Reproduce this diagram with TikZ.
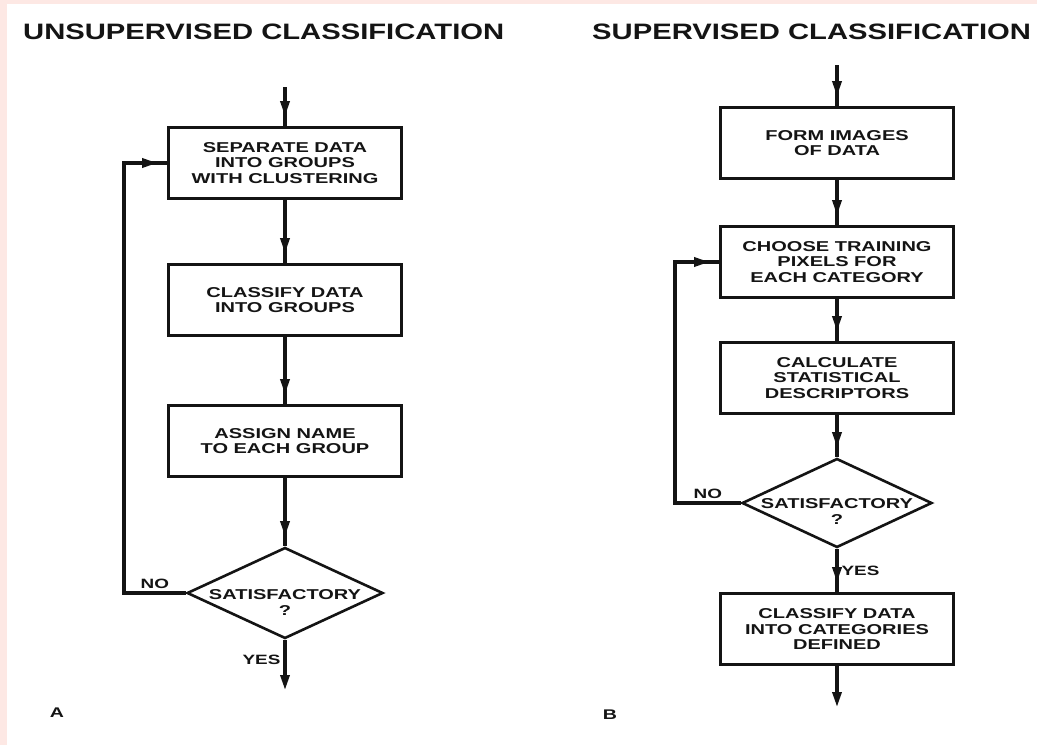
\documentclass[tikz,border=0pt]{standalone}
\usepackage{fontspec}
\newfontfamily\headfont{Liberation Sans}[FakeStretch=1.31]
\newfontfamily\boxfont{Liberation Sans}[FakeStretch=1.4]
\usetikzlibrary{arrows.meta,shapes.geometric,decorations.markings}
\definecolor{edgepink}{RGB}{253,232,228}
\definecolor{ink}{RGB}{20,20,20}
\tikzset{
  procbox/.style={draw=ink, line width=2.6pt, minimum width=233pt, minimum height=71pt,
    align=center, text=ink, font=\boxfont\bfseries\fontsize{14.3}{15.7}\selectfont},
  decision/.style={draw=ink, line width=2.6pt, diamond, inner sep=0pt,
    minimum width=196pt, minimum height=91pt},
  dtext/.style={align=center, inner sep=0pt, text=ink,
    font=\boxfont\bfseries\fontsize{14.3}{16}\selectfont},
  flow/.style={draw=ink, line width=3.2pt,
    decoration={markings, mark=at position -10pt with {\arrow{Triangle[length=15pt,width=9pt]}}},
    postaction={decorate}},
  outflow/.style={draw=ink, line width=3.2pt, -{Triangle[length=15pt,width=9pt]}},
  yesno/.style={inner sep=3pt, text=ink, font=\boxfont\bfseries\fontsize{13.5}{13.5}\selectfont},
  heading/.style={inner sep=0pt, text=ink, font=\headfont\bfseries\fontsize{22.3}{24}\selectfont},
  panel/.style={inner sep=0pt, text=ink, font=\boxfont\bfseries\fontsize{14}{14}\selectfont}
}
\begin{document}
\begin{tikzpicture}[x=1pt, y=-1pt]
  \useasboundingbox (0,0) rectangle (1037,745);
  \fill[edgepink] (0,0) rectangle (1037,745);
  \fill[white] (7,4) rectangle (1037,745);

  % A: unsupervised
  \node[heading, anchor=west] (headA) at (23,32) {UNSUPERVISED CLASSIFICATION};
  \coordinate (inA) at (285,87);
  \node[procbox] (sepA) at (285,163) {SEPARATE DATA\\INTO GROUPS\\WITH CLUSTERING};
  \node[procbox] (clsA) at (285,300) {CLASSIFY DATA\\INTO GROUPS};
  \node[procbox] (nameA) at (285,441) {ASSIGN NAME\\TO EACH GROUP};
  \node[decision] (chkA) at (285,593) {};
  \node[dtext] (chkAtxt) at ([yshift=-9pt]chkA.center) {SATISFACTORY\\?};
  \coordinate (loopA) at (124,593);
  \coordinate (outA) at (285,690);
  \node[panel] (tagA) at (57,713) {A};

  \path[flow] (inA) -- (sepA);
  \path[flow] (sepA) -- (clsA);
  \path[flow] (clsA) -- (nameA);
  \path[flow] (nameA) -- (chkA);
  \path[flow] (chkA.west) -- node[yesno, above] {NO} (loopA) |- (sepA.west);
  \path[outflow] (chkA.south) -- node[yesno, left, pos=0.4] {YES} (outA);

  % B: supervised
  \node[heading, anchor=west] (headB) at (592,32) {SUPERVISED CLASSIFICATION};
  \coordinate (inB) at (837,65);
  \node[procbox] (formB) at (837,143) {FORM IMAGES\\OF DATA};
  \node[procbox] (pickB) at (837,262) {CHOOSE TRAINING\\PIXELS FOR\\EACH CATEGORY};
  \node[procbox] (statB) at (837,378) {CALCULATE\\STATISTICAL\\DESCRIPTORS};
  \node[decision, minimum width=190pt, minimum height=89pt] (chkB) at (837,503) {};
  \node[dtext] (chkBtxt) at ([yshift=-8.5pt]chkB.center) {SATISFACTORY\\?};
  \node[procbox] (mapB) at (837,629) {CLASSIFY DATA\\INTO CATEGORIES\\DEFINED};
  \coordinate (loopB) at (675,503);
  \coordinate (outB) at (837,707);
  \node[panel] (tagB) at (610,715) {B};

  \path[flow] (inB) -- (formB);
  \path[flow] (formB) -- (pickB);
  \path[flow] (pickB) -- (statB);
  \path[flow] (statB) -- (chkB);
  \path[flow] (chkB.west) -- node[yesno, above] {NO} (loopB) |- (pickB.west);
  \path[flow] (chkB.south) -- node[yesno, right] {YES} (mapB);
  \path[outflow] (mapB) -- (outB);
\end{tikzpicture}
\end{document}
